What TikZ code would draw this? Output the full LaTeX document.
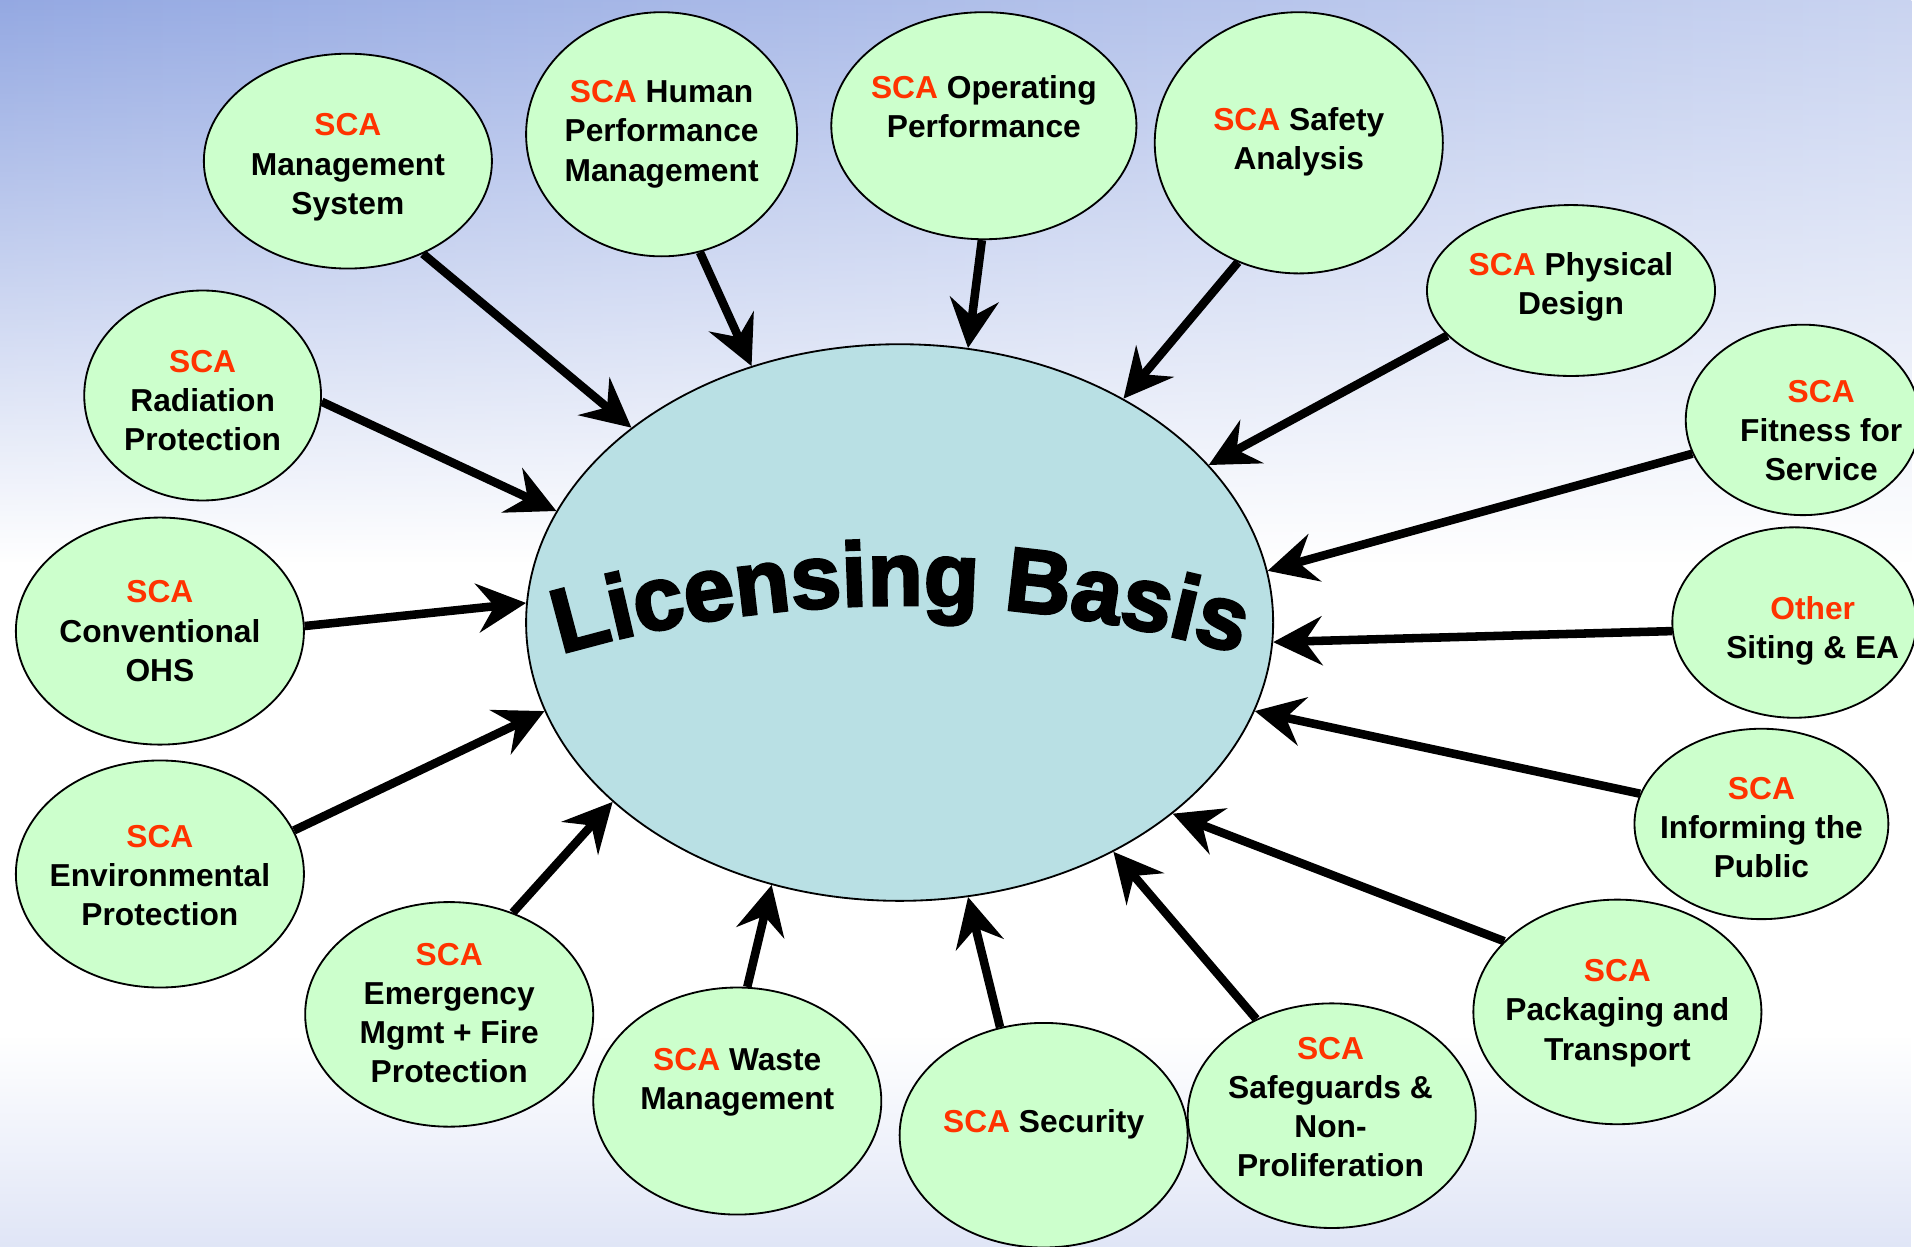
\documentclass[tikz,border=0pt]{standalone}
\usepackage{fontspec}
\setmainfont{Liberation Sans}
\newfontfamily\arcfont{Liberation Sans}[BoldFeatures={FakeBold=3}]
\usepackage{tikz}
\usepackage{xcolor}
\usetikzlibrary{arrows.meta,shapes.geometric,decorations.text,fadings}
\definecolor{bubgreen}{RGB}{204,255,204}
\definecolor{basisblue}{RGB}{185,224,228}
\definecolor{scared}{RGB}{255,51,0}
\definecolor{skyblue}{RGB}{125,150,220}
\newcommand{\sca}{\textcolor{scared}{SCA}}
\tikzset{%
  tipA/.tip={Stealth[length=20pt,width=20pt,inset=7pt]},
  bub/.style 2 args={ellipse, draw, line width=.75pt, fill=bubgreen, inner sep=0pt,
    minimum width=#1pt, minimum height=#2pt},
  txt/.style={font=\fontsize{13}{16}\selectfont\bfseries, align=center},
  feed/.style={line width=3.5pt, -tipA}
}

\begin{document}
\begin{tikzpicture}[x=.5pt,y=-.5pt]
\useasboundingbox (0,0) rectangle (1568,1021);
\fill[white] (0,0) rectangle (1568,1021);
\shade[left color=skyblue, right color=skyblue!50!white, path fading=south] (0,-100) rectangle (1568,460);
\fill[skyblue!35, path fading=north] (0,850) rectangle (1568,1100);
% centre
\node[bub={306}{228}, fill=basisblue] (lb) at (737,510) {};
\path[decorate, decoration={text along path, text align=center,
  text={|\arcfont\bfseries\fontsize{37}{40}\selectfont|Licensing Basis}}]
  (445,540) .. controls (640,481) and (835,481) .. (1030,540);
% bubbles
\node[bub={118}{88}] (ms) at (285,132) {};
\node[bub={111}{100}] (hp) at (542,110) {};
\node[bub={125}{93}] (op) at (806,103) {};
\node[bub={118}{107}] (sa) at (1064,117) {};
\node[bub={118}{70}] (pd) at (1287,238) {};
\node[bub={96}{78}] (ffs) at (1477,344) {};
\node[bub={100}{78}] (site) at (1470,510) {};
\node[bub={104}{78}] (inf) at (1443,675) {};
\node[bub={118}{92}] (pack) at (1325,829) {};
\node[bub={118}{92}] (safe) at (1091,914) {};
\node[bub={118}{92}] (sec) at (855,930) {};
\node[bub={118}{93}] (waste) at (604,902) {};
\node[bub={118}{92}] (emerg) at (368,831) {};
\node[bub={118}{93}] (env) at (131,716) {};
\node[bub={118}{93}] (ohs) at (131,517) {};
\node[bub={97}{86}] (rad) at (166,324) {};
% labels
\node[txt] (ms-t) at (285,137) {\sca\\Management\\System};
\node[txt] (hp-t) at (542,110) {\sca{} Human\\Performance\\Management};
\node[txt] (op-t) at (806,87) {\sca{} Operating\\Performance};
\node[txt] (sa-t) at (1064,116) {\sca{} Safety\\Analysis};
\node[txt] (pd-t) at (1287,235) {\sca{} Physical\\Design};
\node[txt] (ffs-t) at (1492,353) {\sca\\Fitness for\\Service};
\node[txt] (site-t) at (1485,517) {\textcolor{scared}{Other}\\Siting \& EA};
\node[txt] (inf-t) at (1443,678) {\sca\\Informing the\\Public};
\node[txt] (pack-t) at (1325,830) {\sca\\Packaging and\\Transport};
\node[txt] (safe-t) at (1090,907) {\sca\\Safeguards \&\\Non-\\Proliferation};
\node[txt] (sec-t) at (855,921) {\sca{} Security};
\node[txt] (waste-t) at (604,887) {\sca{} Waste\\Management};
\node[txt] (emerg-t) at (368,830) {\sca\\Emergency\\Mgmt + Fire\\Protection};
\node[txt] (env-t) at (131,717) {\sca\\Environmental\\Protection};
\node[txt] (ohs-t) at (131,517) {\sca\\Conventional\\OHS};
\node[txt] (rad-t) at (166,328) {\sca\\Radiation\\Protection};
% arrows into the licensing basis
\draw[feed] (ms.-51.5) -- (lb.144.6);
\draw[feed] (hp.-72.3) -- (lb.120.3);
\draw[feed] (op.-91.8) -- (lb.76.3);
\draw[feed] (sa.-117.7) -- (lb.45.8);
\draw[feed] (pd.-160.9) -- (lb.27.3);
\draw[feed] (ffs.-163.2) -- (lb.8.2);
\draw[feed] (site.-176.6) -- (lb.-3.1);
\draw[feed] (inf.166) -- (lb.-14);
\draw[feed] (pack.148.4) -- (lb.-35.1);
\draw[feed] (safe.128.9) -- (lb.-47.9);
\draw[feed] (sec.112.5) -- (lb.-76);
\draw[feed] (waste.85.6) -- (lb.-116.8);
\draw[feed] (emerg.58.2) -- (lb.-148.6);
\draw[feed] (env.18.3) -- (lb.-166.1);
\draw[feed] (ohs.2.9) -- (lb.177.2);
\draw[feed] (rad.-3.5) -- (lb.162.9);
\end{tikzpicture}
\end{document}
